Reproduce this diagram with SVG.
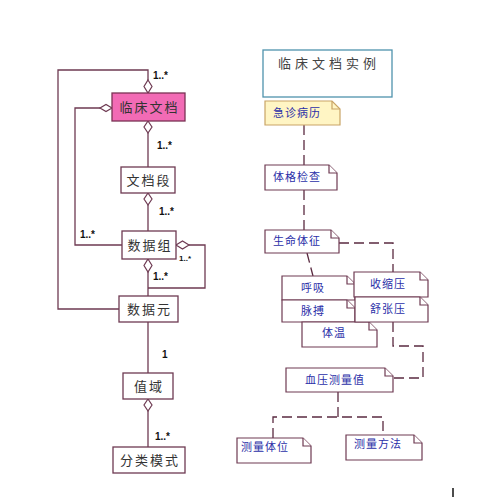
<svg xmlns="http://www.w3.org/2000/svg" width="482" height="502" viewBox="0 0 482 502">
<style>
.box{fill:#fff;stroke:#6e3a52;stroke-width:1.3}
.pink{fill:#f26bb5;stroke:#7a3355;stroke-width:1.3}
.ln{fill:none;stroke:#6e3a52;stroke-width:1.3}
.dia{fill:#fff;stroke:#6e3a52;stroke-width:1.2}
.lt{font-family:"Noto Sans CJK SC","Liberation Sans",sans-serif;font-size:13px;fill:#333;letter-spacing:2px;text-anchor:middle}
.lbl{font-family:"Liberation Sans",Arial,sans-serif;font-size:10px;font-weight:bold;fill:#111}
.note{fill:#fff;stroke:#6e3a52;stroke-width:1.2}
.nt{font-family:"Noto Sans CJK SC","Liberation Sans",sans-serif;font-size:11px;fill:#2b2fa8;letter-spacing:1px;text-anchor:middle}
.dash{fill:none;stroke:#5a2a40;stroke-width:1.3;stroke-dasharray:10,5}
</style>
<rect width="482" height="502" fill="#fff"/>
<g id="connectors">
  <!-- left side -->
  <polyline class="ln" points="148,80 148,70 58,70 58,309 119,309"/>
  <polyline class="ln" points="100,108 75,108 75,245 122,245"/>
  <line class="ln" x1="148" y1="133" x2="148" y2="167"/>
  <line class="ln" x1="148" y1="205" x2="148" y2="231"/>
  <line class="ln" x1="148" y1="272" x2="148" y2="296"/>
  <polyline class="ln" points="189,245 205,245 205,288 148,288"/>
  <line class="ln" x1="148" y1="322" x2="148" y2="373"/>
  <line class="ln" x1="148" y1="411" x2="148" y2="447"/>
  <path class="dia" d="M148,80 L152,86.5 L148,93 L144,86.5 Z"/>
  <path class="dia" d="M112,108 L106,111.5 L100,108 L106,104.5 Z"/>
  <path class="dia" d="M148,121 L152,127 L148,133 L144,127 Z"/>
  <path class="dia" d="M148,193 L152,199 L148,205 L144,199 Z"/>
  <path class="dia" d="M176,245 L182.5,241 L189,245 L182.5,249 Z"/>
  <path class="dia" d="M148,259 L152,265.5 L148,272 L144,265.5 Z"/>
  <path class="dia" d="M148,399 L152,405 L148,411 L144,405 Z"/>
  <text class="lbl" x="153" y="79">1..*</text>
  <text class="lbl" x="157" y="149">1..*</text>
  <text class="lbl" x="159" y="215">1..*</text>
  <text class="lbl" x="80" y="238">1..*</text>
  <text class="lbl" x="179" y="261" style="font-size:8px">1..*</text>
  <text class="lbl" x="153" y="280">1..*</text>
  <text class="lbl" x="162" y="358">1</text>
  <text class="lbl" x="155" y="440">1..*</text>
  <!-- right side -->
  <line class="dash" x1="304" y1="125" x2="304" y2="165"/>
  <line class="dash" x1="304" y1="190" x2="304" y2="230"/>
  <polyline class="dash" points="339,243 393,243 393,272"/>
  <line class="dash" x1="307" y1="253" x2="313" y2="276"/>
  <polyline class="dash" points="393,322 393,346 423,346 423,378 393,378"/>
  <polyline class="dash" points="338,392 338,417"/>
  <polyline class="dash" points="273,438 273,417 383,417 383,435"/>
</g>
<g id="n-linchuang">
  <rect class="pink" x="112" y="93" width="73" height="28"/>
  <text class="lt" x="149.5" y="112">临床文档</text>
</g>
<g id="n-wendangduan">
  <rect class="box" x="121" y="167" width="54" height="26"/>
  <text class="lt" x="149" y="185">文档段</text>
</g>
<g id="n-shujuzu">
  <rect class="box" x="122" y="231" width="54" height="28"/>
  <text class="lt" x="150" y="250">数据组</text>
</g>
<g id="n-shujuyuan">
  <rect class="box" x="119" y="296" width="59" height="26"/>
  <text class="lt" x="149.5" y="314">数据元</text>
</g>
<g id="n-zhiyu">
  <rect class="box" x="123" y="373" width="50" height="26"/>
  <text class="lt" x="149" y="391">值域</text>
</g>
<g id="n-fenlei">
  <rect class="box" x="113" y="447" width="72" height="26"/>
  <text class="lt" x="150" y="465">分类模式</text>
</g>
<g id="n-shili">
  <rect x="263" y="50" width="129" height="47" fill="#fff" stroke="#4f93ad" stroke-width="1.3"/>
  <text class="lt" x="329" y="68" style="letter-spacing:4px;fill:#444">临床文档实例</text>
</g>
<g id="n-jizhen">
  <path d="M265,101 H332 L340,109 V125 H265 Z" fill="#fff5c4" stroke="#c9a466" stroke-width="1.2"/>
  <path d="M332,101 V109 H340" fill="none" stroke="#c9a466" stroke-width="1.2"/>
  <text class="nt" x="297" y="117">急诊病历</text>
</g>
<g id="n-tige">
  <path class="note" d="M265,165 H329 L337,173 V190 H265 Z"/>
  <path class="note" d="M329,165 V173 H337" fill="none"/>
  <text class="nt" x="297" y="181">体格检查</text>
</g>
<g id="n-shengming">
  <path class="note" d="M265,230 H331 L339,238 V253 H265 Z"/>
  <path class="note" d="M331,230 V238 H339" fill="none"/>
  <text class="nt" x="297" y="245">生命体征</text>
</g>
<g id="n-huxi">
  <path class="note" d="M282,276 H347 L355,284 V300 H282 Z"/>
  <path class="note" d="M347,276 V284 H355" fill="none"/>
  <text class="nt" x="313" y="292">呼吸</text>
</g>
<g id="n-maibo">
  <path class="note" d="M282,300 H347 L355,308 V322 H282 Z"/>
  <path class="note" d="M347,300 V308 H355" fill="none"/>
  <text class="nt" x="313" y="315">脉搏</text>
</g>
<g id="n-tiwen">
  <path class="note" d="M302,322 H369 L377,330 V347 H302 Z"/>
  <path class="note" d="M369,322 V330 H377" fill="none"/>
  <text class="nt" x="334" y="337">体温</text>
</g>
<g id="n-shousuo">
  <path class="note" d="M354,272 H420 L428,280 V297 H354 Z"/>
  <path class="note" d="M420,272 V280 H428" fill="none"/>
  <text class="nt" x="388" y="288">收缩压</text>
</g>
<g id="n-shuzhang">
  <path class="note" d="M355,297 H420 L428,305 V322 H355 Z"/>
  <path class="note" d="M420,297 V305 H428" fill="none"/>
  <text class="nt" x="388" y="313">舒张压</text>
</g>
<g id="n-xueya">
  <path class="note" d="M286,368 H385 L393,376 V392 H286 Z"/>
  <path class="note" d="M385,368 V376 H393" fill="none"/>
  <text class="nt" x="335" y="384">血压测量值</text>
</g>
<g id="n-tiwei">
  <path class="note" d="M237,438 H303 L311,446 V463 H237 Z"/>
  <path class="note" d="M303,438 V446 H311" fill="none"/>
  <text class="nt" x="265" y="451">测量体位</text>
</g>
<g id="n-fangfa">
  <path class="note" d="M346,435 H414 L422,443 V460 H346 Z"/>
  <path class="note" d="M414,435 V443 H422" fill="none"/>
  <text class="nt" x="378" y="448">测量方法</text>
</g>
<line x1="453" y1="488" x2="453" y2="497" stroke="#111" stroke-width="1.5"/>
</svg>
